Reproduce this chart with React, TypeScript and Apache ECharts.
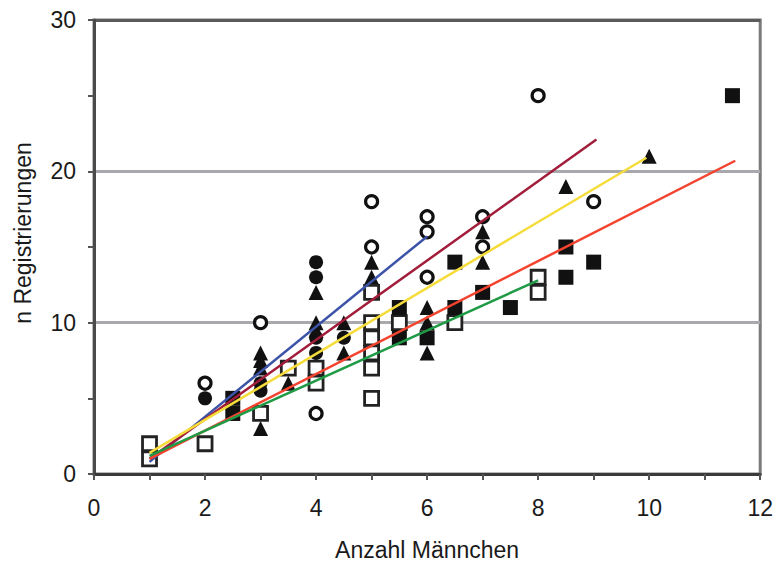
import React, { useEffect, useRef } from "react";
import * as echarts from "echarts";

// Data: [Anzahl Männchen, n Registrierungen]
const openCircles: [number, number][] = [
  [2, 6], [3, 10], [4, 4], [5, 18], [5, 15], [6, 17], [6, 16], [6, 13],
  [7, 17], [7, 15], [8, 25], [9, 18],
];
const filledCircles: [number, number][] = [
  [1, 1], [2, 5], [3, 6], [3, 5.5], [4, 14], [4, 13], [4, 9], [4, 8], [4.5, 9],
];
const triangles: [number, number][] = [
  [3, 8], [3, 7.5], [3, 7], [3, 3], [3.5, 6], [4, 12], [4, 10], [4, 9.5],
  [4.5, 10], [4.5, 8], [5, 14], [5, 13], [6, 11], [6, 10], [6, 8],
  [7, 16], [7, 14], [8.5, 19], [10, 21],
];
const openSquares: [number, number][] = [
  [1, 2], [1, 1], [2, 2], [3, 4], [3.5, 7], [4, 7], [4, 6], [5, 12], [5, 10],
  [5, 9], [5, 8], [5, 7], [5, 5], [5.5, 10], [6.5, 10], [8, 13], [8, 12],
];
const filledSquares: [number, number][] = [
  [2.5, 5], [2.5, 4], [5.5, 11], [5.5, 9], [6, 9], [6.5, 14], [6.5, 11],
  [7, 12], [7.5, 11], [8.5, 15], [8.5, 13], [9, 14], [11.5, 25],
];

// Trend line end points
const trendBlue: [number, number][] = [[1, 0.8], [6, 15.7]];
const trendMaroon: [number, number][] = [[1, 1.0], [9.05, 22.1]];
const trendYellow: [number, number][] = [[1, 1.4], [9.95, 20.9]];
const trendRed: [number, number][] = [[1, 1.0], [11.55, 20.7]];
const trendGreen: [number, number][] = [[1, 1.2], [8, 12.8]];

const xMin = 0, xMax = 12, xStep = 2;
const yMin = 0, yMax = 30, yStep = 10;

const xTitle = "Anzahl Männchen";
const yTitle = "n Registrierungen";

const FONT = "'Liberation Sans', Arial, sans-serif";

export default function App() {
  const ref = useRef<HTMLDivElement>(null);
  useEffect(() => {
    if (!ref.current) return;
    const chart = echarts.init(ref.current, undefined, { renderer: "svg" });
    const scatter = (data: [number, number][], symbol: string, size: number, fill: string, border?: string, bw = 0) => ({
      type: "scatter",
      data,
      symbol,
      symbolSize: size,
      z: 3,
      itemStyle: { color: fill, borderColor: border || fill, borderWidth: bw, opacity: 1 },
    });
    const trend = (data: [number, number][], color: string) => ({
      type: "line",
      data,
      showSymbol: false,
      symbol: "none",
      z: 5,
      lineStyle: { color, width: 2.5 },
    });
    chart.setOption({
      animation: false,
      backgroundColor: "#ffffff",
      grid: {
        left: 94, top: 20, width: 667, height: 454,
        show: true, borderColor: "#7a7a7a", borderWidth: 3, backgroundColor: "#ffffff",
      },
      xAxis: {
        type: "value", min: xMin, max: xMax, interval: xStep,
        name: xTitle, nameLocation: "middle", nameGap: 64,
        nameTextStyle: { fontFamily: FONT, fontSize: 23, color: "#1a1a1a" },
        axisLine: { show: true, onZero: false, lineStyle: { color: "#3a3a3a", width: 3 } },
        axisTick: { show: true, length: 6, lineStyle: { color: "#555", width: 2 } },
        minorTick: { show: true, splitNumber: 2, length: 6, lineStyle: { color: "#555", width: 2 } },
        axisLabel: { fontFamily: FONT, fontSize: 23, color: "#1a1a1a", margin: 22 },
        splitLine: { show: false },
      },
      yAxis: {
        type: "value", min: yMin, max: yMax, interval: yStep,
        axisLine: { show: true, onZero: false, lineStyle: { color: "#4a4a4a", width: 3 } },
        axisTick: { show: true, length: 6, lineStyle: { color: "#555", width: 2 } },
        minorTick: { show: true, splitNumber: 2, length: 6, lineStyle: { color: "#555", width: 2 } },
        axisLabel: { fontFamily: FONT, fontSize: 23, color: "#1a1a1a", margin: 18 },
        splitLine: {
          show: true,
          lineStyle: { color: ["#3a3a3a", "#a9a9ad", "#a9a9ad", "#5a5a5a"], width: 3 },
        },
      },
      graphic: [
        {
          type: "text", x: 23, y: 233, rotation: Math.PI / 2,
          style: {
            text: yTitle, fontFamily: FONT, fontSize: 23, fill: "#1a1a1a",
            align: "center", verticalAlign: "middle",
          },
        },
      ],
      series: [
        scatter(openCircles, "circle", 12, "#ffffff", "#111", 3.2),
        scatter(filledCircles, "circle", 14, "#111"),
        scatter(triangles, "triangle", 15, "#111"),
        scatter(openSquares, "rect", 14, "#ffffff", "#222", 2.8),
        scatter(filledSquares, "rect", 15, "#111"),
        trend(trendBlue, "#3c53a8"),
        trend(trendMaroon, "#a11d3a"),
        trend(trendYellow, "#f5dc3a"),
        trend(trendRed, "#f4432f"),
        trend(trendGreen, "#1f9a45"),
      ],
    });
    return () => chart.dispose();
  }, []);
  return <div ref={ref} style={{ width: 776, height: 566, position: "absolute", left: 0, top: 0 }} />;
}
